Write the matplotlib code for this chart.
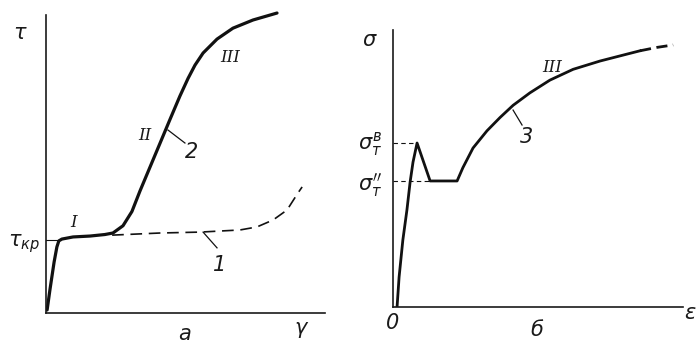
import matplotlib
matplotlib.use("Agg")
import matplotlib.pyplot as plt

# кривая 2 (сплошная) и 1 (штриховая) на панели а
g2 = [0.4, 1.4, 2.9, 3.9, 4.6, 5.7, 9.7, 15.8, 21.1, 24.0, 27.6, 30.8, 33.7, 37.3, 40.9,
      44.4, 48.0, 50.9, 53.4, 56.3, 61.3, 67.0, 74.2, 82.8]
t2 = [1.0, 7.6, 16.8, 21.8, 23.8, 24.4, 25.1, 25.4, 25.9, 26.4, 28.8, 33.5, 40.3, 48.2, 56.1,
      63.8, 71.6, 77.4, 81.8, 85.8, 90.4, 94.0, 96.7, 99.0]
g1 = [23.7, 40.9, 55.2, 69.5, 75.6, 81.4, 86.4, 90.3, 91.8]
t1 = [25.7, 26.4, 26.7, 27.4, 28.4, 30.7, 34.0, 39.6, 41.6]
t_kr = 24.1

# кривая 3 на панели б
e3 = [1.4, 2.1, 3.4, 4.8, 5.9, 6.9, 8.3, 12.8, 22.1, 24.1, 27.6, 32.4, 36.9, 41.4, 47.2,
      54.1, 62.1, 71.4, 80.7, 85.2]
s3 = [0.0, 10.8, 24.2, 35.0, 45.1, 52.3, 59.2, 45.5, 45.5, 50.3, 57.4, 63.6, 68.4, 72.8, 77.3,
      81.9, 85.8, 88.8, 91.3, 92.5]
e3_tail = [85.2, 90.9, 96.6]
s3_tail = [92.5, 93.7, 94.6]
s_up = 59.2   # верхний предел текучести
s_low = 45.5  # нижний предел текучести

fig = plt.figure(figsize=(6.98, 3.44), dpi=100)
ax1 = fig.add_axes([46/698, 31/344, 279/698, 303/344])
ax2 = fig.add_axes([393/698, 37/344, 290/698, 277/344])

for ax in (ax1, ax2):
    ax.set_xlim(0, 100)
    ax.set_ylim(0, 100)
    ax.set_xticks([])
    ax.set_yticks([])
    ax.patch.set_alpha(0)
    for s in ("top", "right"):
        ax.spines[s].set_visible(False)
    for s in ("left", "bottom"):
        ax.spines[s].set_linewidth(1.2)
        ax.spines[s].set_color("#1a1a1a")
ax1.spines["left"].set_bounds(0, 98.3)

txt = dict(fontsize=15, style="italic", color="#1a1a1a", ha="center", va="center")
rom = dict(fontsize=12, family="DejaVu Serif", style="italic", color="#1a1a1a", ha="center", va="center")

# панель а
ax1.plot(g2, t2, color="#111111", lw=2.3, solid_capstyle="round", solid_joinstyle="round")
ax1.plot(g1, t1, color="#111111", lw=1.2, dashes=(7, 4))
ax1.plot([0, 4.3], [t_kr, t_kr], color="#111111", lw=0.8)
ax1.plot([43.7, 49.8], [60.4, 56.1], color="#111111", lw=0.9)
ax1.plot([56.3, 61.3], [26.7, 21.5], color="#111111", lw=0.9)
ax1.text(-9.3, 92.4, r"$\tau$", clip_on=False, **txt)
ax1.text(-8.0, 23.0, r"$\tau_{кр}$", clip_on=False, **txt)
ax1.text(49.8, -6.8, "a", clip_on=False, **txt)
ax1.text(91.8, -5.6, r"$\gamma$", clip_on=False, **txt)
ax1.text(10.0, 30.0, "I", **rom)
ax1.text(35.5, 58.7, "II", **rom)
ax1.text(65.9, 84.2, "III", **rom)
ax1.text(52.0, 53.0, "2", **txt)
ax1.text(62.4, 16.0, "1", **txt)

# панель б
ax2.plot(e3, s3, color="#111111", lw=2.0, solid_joinstyle="round")
ax2.plot(e3_tail, s3_tail, color="#111111", lw=2.0, dashes=(4, 2))
ax2.plot([0, 8.3], [s_up, s_up], color="#111111", lw=0.8, dashes=(4, 3))
ax2.plot([0, 12.8], [s_low, s_low], color="#111111", lw=0.8, dashes=(4, 3))
ax2.plot([41.4, 44.5], [71.1, 65.7], color="#111111", lw=0.9)
ax2.text(-7.9, 96.4, r"$\sigma$", clip_on=False, **txt)
ax2.text(-8.0, 59.0, r"$\sigma_{т}^{в}$", clip_on=False, **txt)
ax2.text(-8.0, 44.0, r"$\sigma_{т}^{\prime\prime}$", clip_on=False, **txt)
ax2.text(-0.3, -5.8, "0", clip_on=False, **txt)
ax2.text(49.7, -8.3, "б", clip_on=False, **txt)
ax2.text(102.4, -2.2, r"$\varepsilon$", clip_on=False, **txt)
ax2.text(46.2, 61.4, "3", **txt)
ax2.text(54.8, 86.6, "III", **rom)

fig.savefig("out.png", dpi=100)
